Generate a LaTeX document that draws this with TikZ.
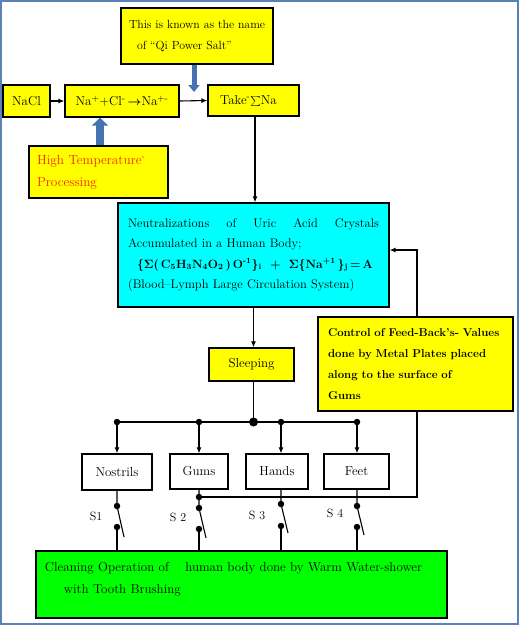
\documentclass[tikz,border=0pt]{standalone}
\usepackage{fontspec}
\usetikzlibrary{arrows.meta,calc}
\definecolor{frameblue}{RGB}{90,130,185}
\definecolor{arrowblue}{RGB}{70,115,175}
\definecolor{hotred}{RGB}{255,35,0}
\definecolor{boxyellow}{RGB}{255,255,0}
\definecolor{boxcyan}{RGB}{0,255,255}
\definecolor{boxgreen}{RGB}{0,255,0}
\begin{document}
\begin{tikzpicture}[x=1pt,y=-1pt,
  box/.style={draw=black,line width=1.3pt,inner sep=0pt,font=\fontsize{13}{20}\selectfont},
  ybox/.style={box,fill=boxyellow},
  conn/.style={line width=1.1pt,-{Latex[length=6pt,width=5pt]}},
  wire/.style={line width=1.1pt},
  jdot/.style={circle,fill=black,inner sep=0pt,minimum size=6.5pt},
  bigjdot/.style={circle,fill=black,inner sep=0pt,minimum size=9pt},
  slabel/.style={font=\fontsize{12}{14}\selectfont,inner sep=0pt}]
\useasboundingbox (0,0) rectangle (520,627);
\draw[frameblue,line width=1.5pt] (1,1) rectangle (518,624);

% top row
\node[ybox,minimum width=47pt,minimum height=32pt] (nacl) at (26.5,101) {NaCl};
\node[ybox,minimum width=114pt,minimum height=32pt] (na) at (122,101)
  {Na\textsuperscript{+}+Cl\textsuperscript{-}\,{\boldmath$\rightarrow$}Na\textsuperscript{+-}};
\node[ybox,minimum width=91pt,minimum height=31pt] (take) at (253.5,100.5)
  {Take\textsuperscript{-}$\sum$Na\hspace*{10pt}};
\node[ybox,minimum width=152pt,minimum height=56pt,text width=136pt,align=left,
  font=\fontsize{11.8}{21}\selectfont] (qi) at (197,36)
  {\mbox{This is known as the name}\\\hspace*{8pt}of ``Qi Power Salt''};
\node[ybox,minimum width=139pt,minimum height=52pt,text width=123pt,align=left,
  text=hotred,font=\fontsize{13.3}{22}\selectfont] (heat) at (98.5,172)
  {\mbox{High Temperature\textsuperscript{-}}\\Processing};

% cyan box
\node[box,fill=boxcyan,minimum width=271pt,minimum height=104pt,text width=251pt,align=left,
  font=\fontsize{12.5}{20.5}\selectfont] (cyanbox) at (253.5,255)
  {\hbox to 251pt{Neutralizations\hfill of\hfill Uric\hfill Acid\hfill Crystals}\\
   \mbox{Accumulated in a Human Body;}\\
   \hspace*{9pt}\mbox{\fontsize{12}{20.5}\selectfont\textbf{\{{\boldmath$\Sigma$}(\,C\textsubscript{5}H\textsubscript{3}N\textsubscript{4}O\textsubscript{2}\,)\,O\textsuperscript{-1}\}\textsubscript{i}\ \ +\ \ {\boldmath$\Sigma$}\{Na\textsuperscript{+1}\,\}\textsubscript{j}\,=\,A}}\\
   \mbox{(Blood--Lymph Large Circulation System)}};

\node[ybox,minimum width=85pt,minimum height=33pt] (sleep) at (251.5,364.5) {Sleeping};

% feedback line (drawn before control box)
\coordinate (fj) at (199,497);
\coordinate (fbb) at (417,497);
\coordinate (fbc) at (417,250);
\draw[conn] (fj) -- (fbb) -- (fbc) -- (fbc -| cyanbox.east);

\node[ybox,minimum width=195pt,minimum height=94pt,text width=175pt,align=left,
  font=\bfseries\fontsize{11.4}{21}\selectfont] (ctrl) at (415.5,364)
  {\mbox{Control of Feed-Back's- Values}\\\mbox{done by Metal Plates placed}\\\mbox{along to the surface of}\\Gums};

% body part boxes
\node[box,fill=white,minimum width=70pt,minimum height=36pt] (nost) at (117,472) {Nostrils};
\node[box,fill=white,minimum width=58pt,minimum height=35pt] (gums) at (199,471.5) {Gums};
\node[box,fill=white,minimum width=62pt,minimum height=35pt] (hands) at (277,471.5) {Hands};
\node[box,fill=white,minimum width=65pt,minimum height=35pt] (feet) at (356.5,471.5) {Feet};

\node[box,fill=boxgreen,minimum width=411pt,minimum height=67pt,text width=393pt,align=left,
  font=\fontsize{13}{22}\selectfont] (green) at (241.5,584.5)
  {\mbox{Cleaning Operation of\hspace{12pt} human body done by Warm Water-shower}\\
   \hspace*{19pt}with Tooth Brushing\\[-8pt]\mbox{}};

% top connectors
\draw[conn] (nacl.east) -- (na.west);
\draw[conn] (na.east) -- (take.west);
\coordinate (tx) at (255,0);
\draw[conn] (take.south -| tx) -- (tx |- cyanbox.north);

% blue arrows
\coordinate (hx) at (100,0);
\draw[arrowblue,line width=8pt,-{Triangle[width=16pt,length=8pt]}] (heat.north -| hx) -- (na.south -| hx);
\coordinate (qtip) at (194,92);
\draw[arrowblue,line width=5pt,-{Triangle[width=11pt,length=7pt]}] (qi.south -| qtip) -- (qtip);

% bus
\coordinate (bus) at (253.5,422);
\coordinate (b1) at (117,422);
\coordinate (b2) at (199,422);
\coordinate (b3) at (281,422);
\coordinate (b4) at (357,422);
\draw[conn] (cyanbox.south -| bus) -- (bus |- sleep.north);
\draw[wire] (sleep.south -| bus) -- (bus);
\draw[wire] (b1) -- (b4);
\foreach \b/\t in {b1/nost,b2/gums,b3/hands,b4/feet}{
  \draw[conn] (\b) -- (\b |- \t.north);
  \node[jdot] at (\b) {};
}
\node[bigjdot] at (bus) {};

% switches
\coordinate (t1) at (117,506); \coordinate (l1) at (117,527); \coordinate (e1) at (124,537);
\coordinate (t2) at (199,508); \coordinate (l2) at (199,529); \coordinate (e2) at (206,538);
\coordinate (t3) at (281,504); \coordinate (l3) at (281,526); \coordinate (e3) at (288,533);
\coordinate (t4) at (357,506); \coordinate (l4) at (357,527); \coordinate (e4) at (364,535);
\draw[wire] (t1 |- nost.south) -- (t1) -- (e1);
\draw[wire] (t2 |- gums.south) -- (t2) -- (e2);
\draw[wire] (t3 |- hands.south) -- (t3) -- (e3);
\draw[wire] (t4 |- feet.south) -- (t4) -- (e4);
\foreach \l in {l1,l2,l3,l4}{
  \draw[wire] (\l) -- (\l |- green.north);
}
\foreach \p in {t1,l1,t2,l2,t3,l3,t4,l4,fj}{
  \node[jdot] at (\p) {};
}

\node[slabel] (s1) at (96,516) {S1};
\node[slabel] (s2) at (178,517) {S 2};
\node[slabel] (s3) at (257,515) {S 3};
\node[slabel] (s4) at (335,513) {S 4};
\end{tikzpicture}
\end{document}
